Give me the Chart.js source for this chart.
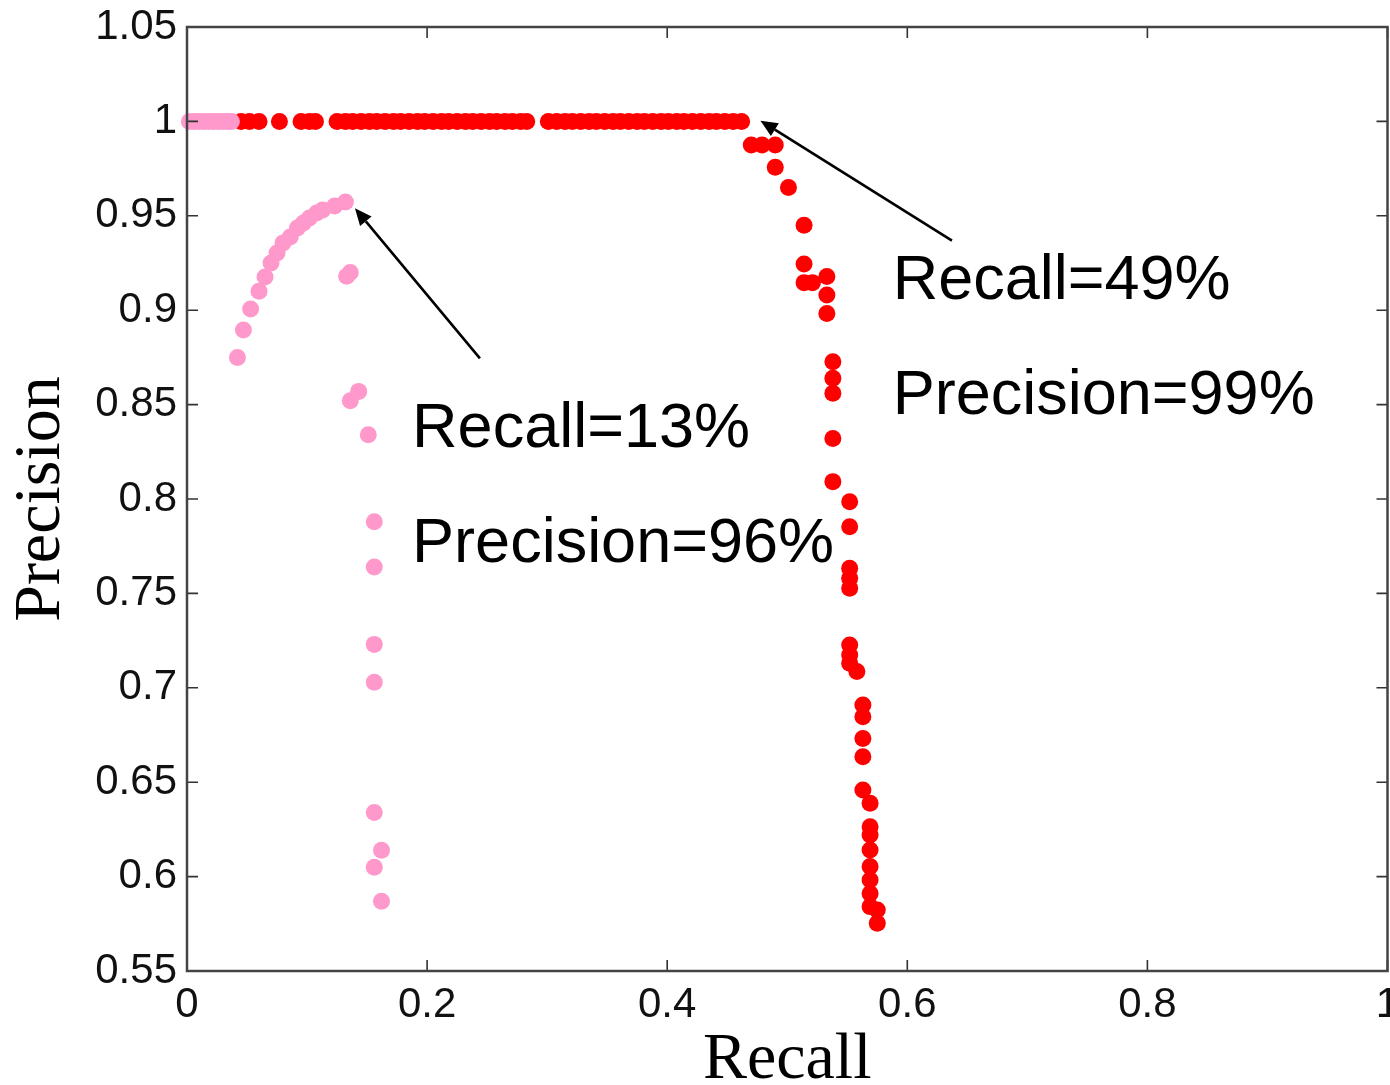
<!DOCTYPE html>
<html>
<head>
<meta charset="utf-8">
<script src="https://cdn.jsdelivr.net/npm/chart.js@4/dist/chart.umd.min.js"></script>
<style>
  html, body { margin: 0; padding: 0; background: #ffffff; overflow: hidden; }
  #wrap { position: relative; width: 1390px; height: 1085px; overflow: hidden; }
</style>
</head>
<body>
<div id="wrap"><canvas id="c" width="1396" height="1085"></canvas></div>
<script>
// ---------- data ----------
const xTickValues = [0, 0.2, 0.4, 0.6, 0.8, 1];
const xTickLabels = ['0', '0.2', '0.4', '0.6', '0.8', '1'];
const yTickValues = [0.55, 0.6, 0.65, 0.7, 0.75, 0.8, 0.85, 0.9, 0.95, 1, 1.05];
const yTickLabels = ['0.55', '0.6', '0.65', '0.7', '0.75', '0.8', '0.85', '0.9', '0.95', '1', '1.05'];

const pinkRecall = [0.002, 0.006, 0.010, 0.014, 0.018, 0.022, 0.026, 0.030, 0.034, 0.037,
  0.042, 0.047, 0.053, 0.060, 0.065, 0.070, 0.075, 0.080, 0.086, 0.092, 0.097, 0.102, 0.108, 0.113, 0.123, 0.132,
  0.133, 0.136, 0.136, 0.143, 0.151, 0.156, 0.156, 0.156, 0.156, 0.156, 0.162, 0.156, 0.162];
const pinkPrecision = [1, 1, 1, 1, 1, 1, 1, 1, 1, 1,
  0.875, 0.8895, 0.9006, 0.910, 0.9176, 0.925, 0.9303, 0.9356, 0.9388, 0.9435, 0.9462, 0.9488, 0.9515, 0.9531, 0.9552, 0.9573,
  0.918, 0.920, 0.852, 0.857, 0.834, 0.788, 0.764, 0.723, 0.703, 0.634, 0.614, 0.605, 0.587];

const redRecall = [0.045, 0.052, 0.060, 0.077, 0.095, 0.102, 0.107, 0.125, 0.132, 0.138, 0.145, 0.152, 0.158,
  0.165, 0.172, 0.178, 0.185, 0.192, 0.198, 0.205, 0.212, 0.218, 0.225, 0.232, 0.238, 0.245, 0.252, 0.258,
  0.265, 0.271, 0.278, 0.283, 0.301, 0.308, 0.315, 0.321, 0.328, 0.335, 0.341, 0.348, 0.355, 0.361, 0.368,
  0.375, 0.381, 0.388, 0.395, 0.401, 0.408, 0.414, 0.421, 0.428, 0.435, 0.441, 0.448, 0.455, 0.462,
  0.470, 0.479, 0.490, 0.490, 0.501, 0.514, 0.514, 0.514, 0.521, 0.533, 0.533, 0.533,
  0.538, 0.538, 0.538, 0.538, 0.538, 0.552, 0.552, 0.552, 0.552, 0.552, 0.552, 0.552, 0.552, 0.558,
  0.563, 0.563, 0.563, 0.563, 0.563, 0.569, 0.569, 0.569, 0.569, 0.569, 0.569, 0.569, 0.569, 0.575, 0.575];
const redPrecision = [1, 1, 1, 1, 1, 1, 1, 1, 1, 1, 1, 1, 1,
  1, 1, 1, 1, 1, 1, 1, 1, 1, 1, 1, 1, 1, 1, 1,
  1, 1, 1, 1, 1, 1, 1, 1, 1, 1, 1, 1, 1, 1, 1,
  1, 1, 1, 1, 1, 1, 1, 1, 1, 1, 1, 1, 1, 1,
  0.9875, 0.9875, 0.9875, 0.9757, 0.965, 0.945, 0.9245, 0.9146, 0.9146, 0.9178, 0.908, 0.8983,
  0.8727, 0.864, 0.856, 0.8321, 0.8092, 0.7986, 0.7853, 0.7633, 0.758, 0.7527, 0.7227, 0.7174, 0.713, 0.7086,
  0.6909, 0.6847, 0.6732, 0.6635, 0.6459, 0.6388, 0.6264, 0.622, 0.6141, 0.6053, 0.5982, 0.5911, 0.5841, 0.5823, 0.5753];

// annotation texts and anchors (data units)
const noteTexts = ['Recall=13%', 'Precision=96%', 'Recall=49%', 'Precision=99%'];
const noteRecall = [0.1875, 0.1875, 0.5878, 0.5878];
const notePrecision = [0.8275, 0.7666, 0.9060, 0.8450];
// arrows: tail -> head (data units)
const arrowTailRecall = [0.2440, 0.6372];
const arrowTailPrecision = [0.8745, 0.9368];
const arrowHeadRecall = [0.1399, 0.4777];
const arrowHeadPrecision = [0.9540, 1.0004];

// ---------- chart ----------
const toPts = (xs, ys) => xs.map((x, i) => ({ x: x, y: ys[i] }));

const frameAndNotes = {
  id: 'frameAndNotes',
  afterDraw(chart) {
    const ctx = chart.ctx;
    const xs = chart.scales.x, ys = chart.scales.y;
    const a = chart.chartArea;
    ctx.save();
    // inward tick marks
    ctx.strokeStyle = '#333';
    ctx.lineWidth = 1.6;
    const tl = 11;
    ctx.beginPath();
    xTickValues.forEach(v => {
      const px = xs.getPixelForValue(v);
      ctx.moveTo(px, a.bottom); ctx.lineTo(px, a.bottom - tl);
      ctx.moveTo(px, a.top); ctx.lineTo(px, a.top + tl);
    });
    yTickValues.forEach(v => {
      const py = ys.getPixelForValue(v);
      ctx.moveTo(a.left, py); ctx.lineTo(a.left + tl, py);
      ctx.moveTo(a.right, py); ctx.lineTo(a.right - tl, py);
    });
    ctx.stroke();
    // frame
    ctx.strokeStyle = '#444';
    ctx.lineWidth = 2.5;
    ctx.strokeRect(a.left, a.top, a.right - a.left, a.bottom - a.top);
    // arrows
    ctx.strokeStyle = '#000';
    ctx.fillStyle = '#000';
    ctx.lineWidth = 2.6;
    for (let i = 0; i < arrowTailRecall.length; i++) {
      const x1 = xs.getPixelForValue(arrowTailRecall[i]), y1 = ys.getPixelForValue(arrowTailPrecision[i]);
      const x2 = xs.getPixelForValue(arrowHeadRecall[i]), y2 = ys.getPixelForValue(arrowHeadPrecision[i]);
      const ang = Math.atan2(y2 - y1, x2 - x1);
      const hl = 17, hw = 7.5;
      const bx = x2 - hl * Math.cos(ang), by = y2 - hl * Math.sin(ang);
      ctx.beginPath();
      ctx.moveTo(x1, y1); ctx.lineTo(bx, by);
      ctx.stroke();
      ctx.beginPath();
      ctx.moveTo(x2, y2);
      ctx.lineTo(bx + hw * Math.sin(ang), by - hw * Math.cos(ang));
      ctx.lineTo(bx - hw * Math.sin(ang), by + hw * Math.cos(ang));
      ctx.closePath();
      ctx.fill();
    }
    // notes
    ctx.font = '63px "Liberation Sans", Arial, sans-serif';
    ctx.textAlign = 'left';
    ctx.textBaseline = 'alphabetic';
    noteTexts.forEach((t, i) => {
      ctx.fillText(t, xs.getPixelForValue(noteRecall[i]), ys.getPixelForValue(notePrecision[i]));
    });
    ctx.restore();
  }
};

new Chart(document.getElementById('c'), {
  type: 'scatter',
  data: {
    datasets: [
      {
        label: 'pink',
        data: toPts(pinkRecall, pinkPrecision),
        backgroundColor: '#ff99cc',
        borderColor: '#ff99cc',
        borderWidth: 0,
        pointRadius: 8.5,
        clip: false
      },
      {
        label: 'red',
        data: toPts(redRecall, redPrecision),
        backgroundColor: '#ff0000',
        borderColor: '#ff0000',
        borderWidth: 0,
        pointRadius: 8.5,
        clip: false
      }
    ]
  },
  options: {
    responsive: false,
    animation: false,
    events: [],
    layout: { padding: { top: 27, right: 2, left: 0, bottom: 0 } },
    plugins: { legend: { display: false }, tooltip: { enabled: false }, title: { display: false } },
    scales: {
      x: {
        type: 'linear',
        min: 0, max: 1,
        afterBuildTicks: s => { s.ticks = xTickValues.map(v => ({ value: v })); },
        afterFit: s => { s.height = 114; s.paddingLeft = 0; s.paddingRight = 0; },
        grid: { display: false, drawTicks: false },
        border: { display: false },
        ticks: {
          autoSkip: false, maxRotation: 0,
          padding: 9,
          color: '#111',
          font: { family: '"Liberation Sans", Arial, sans-serif', size: 42 },
          callback: (v, i) => xTickLabels[i]
        },
        title: {
          display: true, text: 'Recall', color: '#000',
          font: { family: '"Liberation Serif", "Times New Roman", serif', size: 66, lineHeight: 0.75 },
          padding: { top: 0, bottom: 0 }
        }
      },
      y: {
        type: 'linear',
        min: 0.55, max: 1.05,
        afterBuildTicks: s => { s.ticks = yTickValues.map(v => ({ value: v })); },
        afterFit: s => { s.width = 187; s.paddingTop = 0; s.paddingBottom = 0; },
        grid: { display: false, drawTicks: false },
        border: { display: false },
        ticks: {
          autoSkip: false,
          padding: 10,
          color: '#111',
          font: { family: '"Liberation Sans", Arial, sans-serif', size: 42 },
          callback: (v, i) => yTickLabels[i]
        },
        title: {
          display: true, text: 'Precision', color: '#000',
          font: { family: '"Liberation Serif", "Times New Roman", serif', size: 66, lineHeight: 1 },
          padding: { top: 9, bottom: 0 }
        }
      }
    }
  },
  plugins: [frameAndNotes]
});
</script>
</body>
</html>
